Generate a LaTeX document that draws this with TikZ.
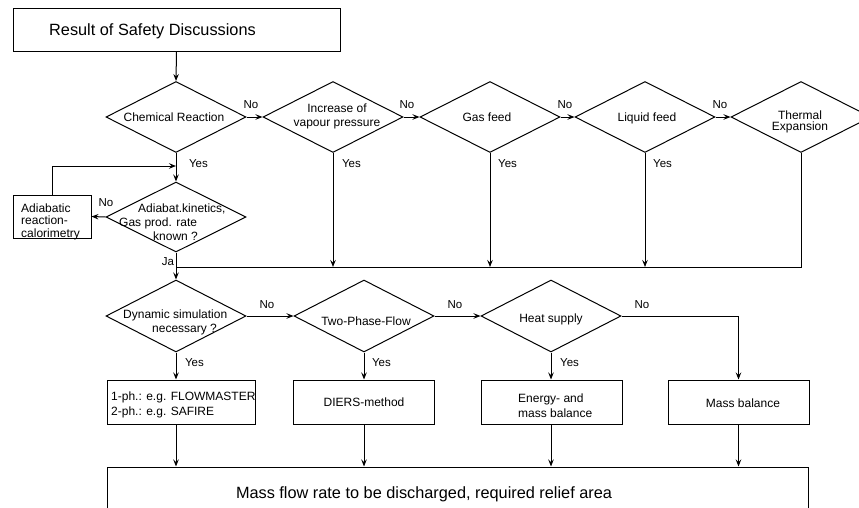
\documentclass[tikz,border=0pt]{standalone}
\usepackage{fontspec}
\setmainfont{Liberation Sans}
\usetikzlibrary{shapes.geometric,arrows.meta}
\tikzset{
  dia/.style={diamond, draw, line width=1pt, minimum width=140pt, minimum height=71pt, inner sep=0pt},
  boxn/.style={rectangle, draw, line width=1pt, inner sep=0pt},
  lbl/.style={font=\fontsize{11.5}{13}\selectfont, inner sep=0pt},
  txt/.style={font=\fontsize{12}{14}\selectfont, align=center, inner sep=0pt},
  bigtxt/.style={font=\fontsize{16.3}{19}\selectfont, inner sep=0pt},
  conn/.style={line width=1pt, -{Stealth[length=7pt,width=5.5pt,inset=2.5pt]}},
  plainln/.style={line width=1pt},
}
\begin{document}
\begin{tikzpicture}[x=1pt,y=-1pt]
\fill[white] (0,0) rectangle (859,507);
\clip (0,0) rectangle (859,507);
% top box
\node[boxn, minimum width=327pt, minimum height=43pt] (top) at (176.5,29.5) {};
\node[bigtxt, anchor=west] (toptxt) at (49,31) {Result of Safety Discussions};
% top row diamonds
\node[dia] (cr) at (176,117) {};
\node[txt] (crt) at (174,117.5) {Chemical Reaction};
\node[dia] (ivp) at (333,117) {};
\node[txt] (ivpt) at (337,116.5) {Increase of\\vapour pressure};
\node[dia] (gf) at (490,117) {};
\node[txt] (gft) at (487,117.5) {Gas feed};
\node[dia] (lf) at (645,117) {};
\node[txt] (lft) at (647,118.5) {Liquid feed};
\node[dia] (te) at (801,117) {};
\node[txt, font=\fontsize{12}{11}\selectfont] (tet) at (800,122) {Thermal\\Expansion};
% adiabat diamond and box
\node[dia, minimum height=70pt] (adb) at (176,217) {};
\node[txt, align=left, anchor=west] (adbt) at (119,222.5) {\hspace*{19pt}Adiabat.kinetics,\\Gas prod. rate\\\hspace*{34pt}known ?};
\node[boxn, minimum width=78pt, minimum height=43pt] (adia) at (52,216.5) {};
\node[txt, align=left, anchor=west, font=\fontsize{12}{12.5}\selectfont] (adiat) at (21,221.5) {Adiabatic\\reaction-\\calorimetry};
% lower diamonds
\node[dia, minimum height=72pt] (dyn) at (176,316) {};
\node[txt, align=left, anchor=west] (dynt) at (123,322.5) {Dynamic simulation\\\hspace*{29pt}necessary ?};
\node[dia, minimum height=72pt] (tpf) at (364,316) {};
\node[txt] (tpft) at (366,321.5) {Two-Phase-Flow};
\node[dia, minimum height=72pt] (hs) at (551,316) {};
\node[txt] (hst) at (551,319) {Heat supply};
% result boxes
\node[boxn, minimum width=148pt, minimum height=44pt] (b1) at (181,402) {};
\node[txt, align=left, anchor=west, font=\fontsize{12}{15}\selectfont] (b1t) at (111,405) {1-ph.: e.g. FLOWMASTER\\2-ph.: e.g. SAFIRE};
\node[boxn, minimum width=141pt, minimum height=44pt] (b2) at (363.5,402) {};
\node[txt] (b2t) at (364,402.5) {DIERS-method};
\node[boxn, minimum width=141pt, minimum height=44pt] (b3) at (551.5,402) {};
\node[txt, align=left, anchor=west, font=\fontsize{12}{15.5}\selectfont] (b3t) at (518,405.5) {Energy- and\\mass balance};
\node[boxn, minimum width=141pt, minimum height=44pt] (b4) at (738.5,402) {};
\node[txt] (b4t) at (743,403) {Mass balance};
% final box
\node[boxn, minimum width=701pt, minimum height=100pt] (res) at (457.5,517) {};
\node[bigtxt] (rest) at (424,494) {Mass flow rate to be discharged, required relief area};
% labels
\node[lbl] (no1) at (251,105) {No};
\node[lbl] (no2) at (407,105) {No};
\node[lbl] (no3) at (565,105) {No};
\node[lbl] (no4) at (720,105) {No};
\node[lbl] (no5) at (106,203) {No};
\node[lbl] (no6) at (267,305) {No};
\node[lbl] (no7) at (455,305) {No};
\node[lbl] (no8) at (642,305) {No};
\node[lbl] (y1) at (198.5,164) {Yes};
\node[lbl] (y2) at (351.5,164) {Yes};
\node[lbl] (y3) at (507.5,164) {Yes};
\node[lbl] (y4) at (662.5,164) {Yes};
\node[lbl] (y5) at (194.5,362.5) {Yes};
\node[lbl] (y6) at (381.5,362.5) {Yes};
\node[lbl] (y7) at (569.5,362.5) {Yes};
\node[lbl] (ja) at (168,262) {Ja};
% coordinates
\coordinate (loopin) at (176,166);
\coordinate (jn) at (176,267);
% connectors
\draw[conn] (top.south) -- (cr.north);
\draw[conn] (cr.east) -- (ivp.west);
\draw[conn] (ivp.east) -- (gf.west);
\draw[conn] (gf.east) -- (lf.west);
\draw[conn] (lf.east) -- (te.west);
\draw[conn] (cr.south) -- (adb.north);
\draw[conn] (adia.north) |- (loopin);
\draw[conn] (adb.west) -- (adia.east);
\draw[plainln] (te.south) |- (jn);
\draw[conn] (ivp.south) -- (ivp.south |- jn);
\draw[conn] (gf.south) -- (gf.south |- jn);
\draw[conn] (lf.south) -- (lf.south |- jn);
\draw[conn] (adb.south) -- (dyn.north);
\draw[conn] (dyn.east) -- (tpf.west);
\draw[conn] (tpf.east) -- (hs.west);
\draw[conn] (hs.east) -| (b4.north);
\draw[conn] (dyn.south) -- (dyn.south |- b1.north);
\draw[conn] (tpf.south) -- (tpf.south |- b2.north);
\draw[conn] (hs.south) -- (hs.south |- b3.north);
\draw[conn] (dyn.south |- b1.south) -- (dyn.south |- res.north);
\draw[conn] (tpf.south |- b2.south) -- (tpf.south |- res.north);
\draw[conn] (hs.south |- b3.south) -- (hs.south |- res.north);
\draw[conn] (b4.south) -- (b4.south |- res.north);
\end{tikzpicture}
\end{document}
